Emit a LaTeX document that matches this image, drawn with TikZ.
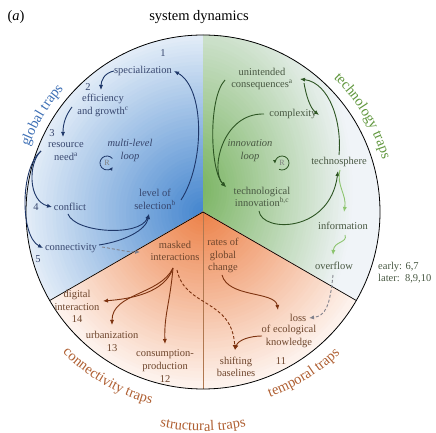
\documentclass[tikz,border=0pt]{standalone}
\usepackage{fontspec}
\setmainfont{Liberation Serif}
\usetikzlibrary{arrows.meta,decorations.text,calc}
\definecolor{blueS}{RGB}{66,132,206}
\definecolor{greenS}{RGB}{118,178,92}
\definecolor{greenW}{RGB}{240,244,248}
\definecolor{orangeS}{RGB}{236,128,70}
\definecolor{blueTxt}{RGB}{55,70,110}
\definecolor{greenTxt}{RGB}{72,88,66}
\definecolor{orangeTxt}{RGB}{110,70,45}
\definecolor{blueArr}{RGB}{30,55,105}
\definecolor{greenArr}{RGB}{45,85,35}
\definecolor{lgreenArr}{RGB}{140,196,110}
\definecolor{brownArr}{RGB}{125,50,15}
\definecolor{dashGray}{RGB}{130,130,140}
\definecolor{trapBlue}{RGB}{60,110,180}
\definecolor{trapGreen}{RGB}{95,150,60}
\definecolor{trapBrown}{RGB}{175,95,50}
\definecolor{divLine}{RGB}{176,120,80}
\newcommand\nf{\fontsize{10.5}{12.6}\selectfont}
\newcommand\tf{\fontsize{14.5}{16}\selectfont}
\begin{document}
\begin{tikzpicture}[x=1pt,y=1pt,
  bt/.style={text=blueTxt, font=\nf, align=center, inner sep=0pt},
  gt/.style={text=greenTxt, font=\nf, align=center, inner sep=0pt},
  ot/.style={text=orangeTxt, font=\nf, align=center, inner sep=0pt},
  rt/.style={text=gray, font=\fontsize{8}{8}\selectfont, inner sep=0pt},
  tip/.style={-{Latex[length=5pt,width=4.2pt]}},
  ba/.style={draw=blueArr, line width=0.9pt, tip},
  ga/.style={draw=greenArr, line width=0.9pt, tip},
  la/.style={draw=lgreenArr, line width=0.9pt, tip},
  oa/.style={draw=brownArr, line width=0.9pt, tip},
  da/.style={draw=dashGray, line width=0.9pt, dash pattern=on 3pt off 2pt, tip},
  ra/.style={line width=0.8pt, -{Latex[length=3.5pt,width=3.5pt]}},
  traplabel/.style={decorate, decoration={text along path, text align=center, text={#1}}}
]
\useasboundingbox (0,0) rectangle (436,433);
\coordinate (C) at (203,221);
\coordinate (G0) at (195,243);

% blue sector
\begin{scope}
\clip (C) -- ++(90:177) arc[start angle=90,end angle=210,radius=177] -- cycle;
\fill[white] (C) circle[radius=200];
\foreach \i in {0,...,59}{
  \pgfmathsetmacro\rr{210*(1-\i/60)}
  \pgfmathtruncatemacro\pp{100*\i/60}
  \fill[blueS!\pp!white] (C) circle[radius=\rr];
}
\end{scope}
% green sector
\begin{scope}
\clip (C) -- ++(-30:177) arc[start angle=-30,end angle=90,radius=177] -- cycle;
\fill[greenW] (C) circle[radius=200];
\foreach \i in {0,...,59}{
  \pgfmathsetmacro\ra{0.8*200*(1-\i/60)}
  \pgfmathsetmacro\rb{1.1*200*(1-\i/60)}
  \pgfmathtruncatemacro\pp{100*\i/60}
  \fill[greenS!\pp!greenW] (G0) ellipse[x radius=\ra, y radius=\rb];
}
\end{scope}
% orange sector
\begin{scope}
\clip (C) -- ++(210:177) arc[start angle=210,end angle=330,radius=177] -- cycle;
\fill[white] (C) circle[radius=200];
\foreach \i in {0,...,59}{
  \pgfmathsetmacro\rr{195*(1-\i/60)}
  \pgfmathtruncatemacro\pp{100*\i/60}
  \fill[orangeS!\pp!white] (C) circle[radius=\rr];
}
\end{scope}
\draw[divLine, line width=0.6pt] (C) -- ++(270:177);
\draw[black, line width=0.7pt] (C) -- ++(210:177);
\draw[black, line width=0.7pt] (C) -- ++(-30:177);
\draw[black, line width=0.8pt] (C) circle[radius=177];

% title
\node[font=\tf] (title) at (199,416) {system dynamics};
\node[font=\tf] (lab) at (16,416) {(\textit{a})};

% trap labels
\path[traplabel={|\tf\color{trapBlue}|global traps}] ($(C)+(175:186)$) arc[start angle=175,end angle=123,radius=186];
\path[traplabel={|\tf\color{trapGreen}|technology traps}] ($(C)+(60:187)$) arc[start angle=60,end angle=2,radius=187];
\path[traplabel={|\tf\color{trapBrown}|connectivity traps}] ($(C)+(210:199)$) arc[start angle=210,end angle=270,radius=199];
\path[traplabel={|\tf\color{trapBrown}|temporal traps}] ($(C)+(272:197)$) arc[start angle=272,end angle=332,radius=197];
\path[traplabel={|\tf\color{trapBrown}|structural traps}] ($(C)+(240:219)$) arc[start angle=240,end angle=300,radius=219];

% blue nodes
\node[bt] (n1) at (163,380) {1};
\node[bt] (spec) at (143,362) {specialization};
\node[bt] (n2) at (88,346) {2};
\node[bt] (eff) at (103,327.5) {efficiency\\and growth\textsuperscript{c}};
\node[bt] (n3) at (52,300) {3};
\node[bt] (res) at (66,281.5) {resource\\need\textsuperscript{a}};
\node[bt, font=\nf\itshape] (ml) at (130,282.5) {multi-level\\loop};
\node[rt] (Rb) at (107,270) {R};
\node[bt] (lev) at (155,233.5) {level of\\selection\textsuperscript{b}};
\node[bt] (n4) at (36,226) {4};
\node[bt] (conf) at (70,226) {conflict};
\node[bt] (conn) at (71,185) {connectivity};
\node[bt] (n5) at (38,174) {5};

% orange nodes
\node[ot] (mask) at (175,182) {masked\\interactions};
\node[ot] (dig) at (77,126.3) {digital\\interaction\\14};
\node[ot] (urb) at (112,91.5) {urbanization\\13};
\node[ot] (cons) at (165,67) {consumption-\\production\\12};
\node[ot] (rates) at (223,177.3) {rates of\\global\\change};
\node[ot] (loss) at (298,115) {loss};
\node[ot] (ecol) at (289,96.5) {of ecological\\knowledge};
\node[ot] (shift) at (236,66) {shifting\\baselines};
\node[ot] (n11) at (281,72) {11};

% green nodes
\node[gt] (unint) at (262,354) {unintended\\consequences\textsuperscript{a}};
\node[gt] (comp) at (293,319) {complexity};
\node[gt, font=\nf\itshape] (il) at (250,282.5) {innovation\\loop};
\node[rt] (Rg) at (282,270) {R};
\node[gt] (techno) at (339,271) {technosphere};
\node[gt] (tin) at (262,236) {technological\\innovation\textsuperscript{b,c}};
\node[gt] (info) at (343,207) {information};
\node[gt] (over) at (334,167) {overflow};
\node[gt, align=left, anchor=west] (early) at (378,160.5) {early: 6,7\\later:\ \ 8,9,10};

% loop symbols
\draw[ra, blueArr] ([shift={(40:7)}]Rb.center) arc[start angle=40,end angle=325,radius=7];
\draw[ra, greenArr] ([shift={(245:7)}]Rg.center) arc[start angle=245,end angle=545,radius=7];

% blue connectors
\coordinate (effL) at (72,326);
\coordinate (resT) at (63,296);
\coordinate (resL) at (41,282);
\coordinate (conflL) at (52,226);
\coordinate (connL) at (43,185);
\coordinate (conflB) at (68,219);
\coordinate (levB) at (149,219);
\coordinate (connR) at (99,188);
\coordinate (levR) at (181,233);
\coordinate (specR) at (174,362);
\coordinate (effT) at (101,343);
\draw[ba] (spec.west) .. controls +(-10,-2) and +(0,9) .. (effT);
\draw[ba] (effL) .. controls (66,318) and (63,310) .. (resT);
\draw[ba] (resL) .. controls (28,270) and (28,232) .. (conflL);
\draw[ba] (resL) .. controls (20,265) and (20,197) .. (connL);
\draw[ba] (conflB) .. controls (75,200) and (140,196) .. (levB);
\draw[ba] (connR) .. controls (125,192) and (146,203) .. (levB);
\draw[ba] (levR) .. controls (205,270) and (205,345) .. (specR);
\coordinate (connD) at (102,186);
\coordinate (maskL) at (140,181);
\draw[da] (connD) .. controls (115,184) and (127,181) .. (maskL);

% green connectors
\coordinate (unintL) at (225,353);
\coordinate (compL) at (264,319);
\coordinate (tinT) at (226,246);
\coordinate (tinB) at (259,222);
\coordinate (technoB) at (338,262);
\coordinate (technoT) at (339,278);
\coordinate (unintR) at (300,354);
\coordinate (k1) at (304,350);
\coordinate (compR) at (319,318);
\draw[ga] (unintL) .. controls (208,335) and (210,262) .. (tinT);
\draw[ga] (compL) .. controls (222,320) and (210,262) .. (tinT);
\draw[ga] (tinB) .. controls (262,200) and (330,200) .. (technoB);
\draw[ga] (technoT) .. controls (342,310) and (330,350) .. (unintR);
\draw[ga] (k1) .. controls (306,338) and (310,325) .. (compR);
\coordinate (technoS) at (340,263);
\coordinate (infoT) at (344,221);
\coordinate (infoB) at (345,198);
\coordinate (overT) at (333,178);
\coordinate (overB) at (333,158);
\coordinate (lossR) at (309,115);
\draw[la] (technoS) .. controls (336,248) and (347,238) .. (infoT);
\draw[la] (infoB) .. controls (348,190) and (334,192) .. (overT);
\draw[da] (overB) .. controls (330,128) and (326,117) .. (lossR);

% orange connectors
\coordinate (maskB) at (173,165);
\coordinate (maskB2) at (177,163);
\coordinate (digR) at (103,132);
\coordinate (urbT) at (112,108);
\coordinate (consT) at (165,89);
\coordinate (shiftT) at (235,83);
\coordinate (ratesB) at (222,158);
\coordinate (lossT) at (278,123);
\coordinate (ecolL) at (262,97);
\draw[oa] (maskB) .. controls (165,140) and (130,134) .. (digR);
\draw[oa] (maskB) .. controls (160,138) and (112,140) .. (urbT);
\draw[oa] (maskB) .. controls (170,130) and (164,118) .. (consT);
\draw[da, draw=brownArr] (maskB2) .. controls (185,125) and (232,135) .. (shiftT);
\draw[oa] (ratesB) .. controls (228,135) and (275,142) .. (lossT);
\draw[oa] (ecolL) .. controls (250,97) and (238,93) .. (shiftT);
\end{tikzpicture}
\end{document}
